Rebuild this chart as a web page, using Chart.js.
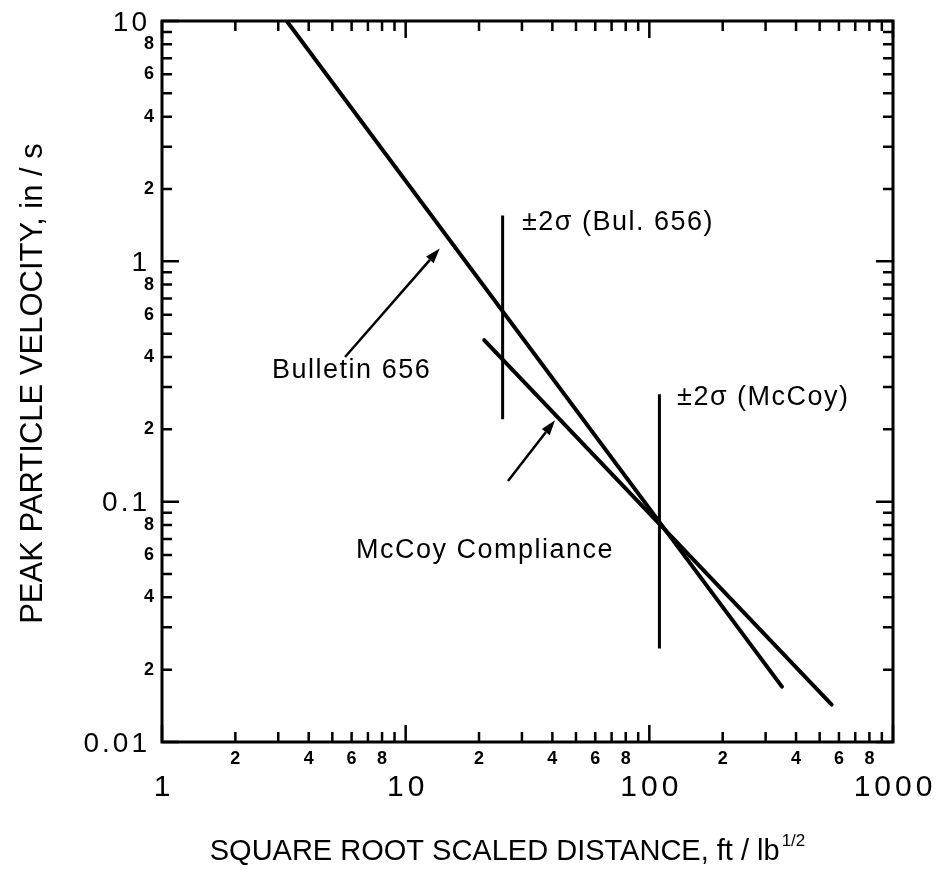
<!DOCTYPE html>
<html>
<head>
<meta charset="utf-8">
<script src="https://cdn.jsdelivr.net/npm/chart.js@4.4.1/dist/chart.umd.min.js"></script>
<style>
  html, body { margin: 0; padding: 0; background: #fff; }
  #wrap { width: 941px; height: 873px; }
</style>
</head>
<body>
<div id="wrap"><canvas id="ppv" width="941" height="873"></canvas></div>
<script>
// attenuation lines: distance in ft/lb^1/2, velocity in in/s
const bulletinDistance = [3.25, 350];
const bulletinVelocity = [10, 0.017];
const mccoyDistance = [21, 560];
const mccoyVelocity = [0.47, 0.0143];

// +/- 2 sigma bars
const bulSigmaDistance = [25, 25];
const bulSigmaVelocity = [1.55, 0.22];
const mccoySigmaDistance = [110, 110];
const mccoySigmaVelocity = [0.28, 0.0245];

// axis ticks
const xDecades = [1, 10, 100, 1000];
const xDecadeLabels = ["1", "10", "100", "1000"];
const yDecades = [0.01, 0.1, 1, 10];
const yDecadeLabels = ["0.01", "0.1", "1", "10"];
const minorSteps = [2, 3, 4, 5, 6, 7, 8, 9];
const labelledSteps = [2, 4, 6, 8];

// callouts, placed in data coordinates
const calloutText = ["Bulletin 656", "McCoy Compliance", "±2σ (Bul. 656)", "±2σ (McCoy)"];
const calloutX = [2.83, 6.25, 30, 130];
const calloutY = [0.351, 0.0628, 1.45, 0.271];
const arrowFromX = [5.64, 26.3];
const arrowFromY = [0.40, 0.122];
const arrowToX = [13.8, 41];
const arrowToY = [1.13, 0.218];

const FONT = "'Liberation Sans', Arial, Helvetica, sans-serif";

function pairs(xs, ys) {
  return xs.map((x, i) => ({ x: x, y: ys[i] }));
}

function tickSet(decades) {
  const out = [];
  decades.forEach((d, i) => {
    out.push({ v: d, major: true });
    if (i < decades.length - 1) {
      minorSteps.forEach((m) => out.push({ v: d * m, major: false }));
    }
  });
  return out;
}

function drawArrow(ctx, x0, y0, x1, y1) {
  const ang = Math.atan2(y1 - y0, x1 - x0);
  const len = 15, half = 5;
  const bx = x1 - len * Math.cos(ang), by = y1 - len * Math.sin(ang);
  ctx.beginPath();
  ctx.moveTo(x0, y0);
  ctx.lineTo(bx, by);
  ctx.stroke();
  ctx.beginPath();
  ctx.moveTo(x1, y1);
  ctx.lineTo(bx + half * Math.sin(ang), by - half * Math.cos(ang));
  ctx.lineTo(bx - half * Math.sin(ang), by + half * Math.cos(ang));
  ctx.closePath();
  ctx.fill();
}

// frame, inward ticks on all four sides, labels, titles, callouts
const logFrame = {
  id: "logFrame",
  afterDatasetsDraw(chart) {
    const ctx = chart.ctx;
    const a = chart.chartArea;
    const xs = chart.scales.x, ys = chart.scales.y;
    ctx.save();
    ctx.strokeStyle = "#000";
    ctx.fillStyle = "#000";
    ctx.lineCap = "butt";

    ctx.lineWidth = 3;
    ctx.strokeRect(a.left, a.top, a.right - a.left, a.bottom - a.top);

    ctx.lineWidth = 2.5;
    tickSet(xDecades).forEach((t) => {
      const px = xs.getPixelForValue(t.v);
      const len = t.major ? 17 : 10;
      ctx.beginPath();
      ctx.moveTo(px, a.bottom); ctx.lineTo(px, a.bottom - len);
      ctx.moveTo(px, a.top); ctx.lineTo(px, a.top + len);
      ctx.stroke();
    });
    tickSet(yDecades).forEach((t) => {
      const py = ys.getPixelForValue(t.v);
      const len = t.major ? 17 : 10;
      ctx.beginPath();
      ctx.moveTo(a.left, py); ctx.lineTo(a.left + len, py);
      ctx.moveTo(a.right, py); ctx.lineTo(a.right - len, py);
      ctx.stroke();
    });

    // x tick labels
    ctx.textAlign = "center";
    ctx.textBaseline = "middle";
    ctx.font = "bold 18px " + FONT;
    xDecades.slice(0, -1).forEach((d) => {
      labelledSteps.forEach((m) => {
        ctx.fillText(String(m), xs.getPixelForValue(d * m), a.bottom + 17);
      });
    });
    ctx.font = "30px " + FONT;
    ctx.letterSpacing = "4px";
    xDecades.forEach((d, i) => {
      ctx.fillText(xDecadeLabels[i], xs.getPixelForValue(d) + 2, a.bottom + 46);
    });

    // y tick labels
    ctx.textAlign = "right";
    ctx.letterSpacing = "0px";
    ctx.font = "bold 18px " + FONT;
    yDecades.slice(0, -1).forEach((d) => {
      labelledSteps.forEach((m) => {
        ctx.fillText(String(m), a.left - 8, ys.getPixelForValue(d * m));
      });
    });
    ctx.font = "28px " + FONT;
    ctx.letterSpacing = "3px";
    yDecades.forEach((d, i) => {
      ctx.fillText(yDecadeLabels[i], a.left - 12, ys.getPixelForValue(d) + 2);
    });
    ctx.letterSpacing = "0px";

    // axis titles
    ctx.textAlign = "left";
    ctx.textBaseline = "alphabetic";
    const xTitle = "SQUARE ROOT SCALED DISTANCE, ft / lb";
    const sup = "1/2";
    ctx.font = "29px " + FONT;
    const wMain = ctx.measureText(xTitle).width;
    ctx.font = "17px " + FONT;
    const wSup = ctx.measureText(sup).width;
    const total = wMain + wSup + 2;
    const cx = (a.left + a.right) / 2 - 20;
    ctx.font = "29px " + FONT;
    ctx.fillText(xTitle, cx - total / 2, a.bottom + 118);
    ctx.font = "17px " + FONT;
    ctx.fillText(sup, cx - total / 2 + wMain + 2, a.bottom + 104);

    ctx.save();
    ctx.translate(42, (a.top + a.bottom) / 2 + 2);
    ctx.rotate(-Math.PI / 2);
    ctx.textAlign = "center";
    ctx.font = "31px " + FONT;
    ctx.fillText("PEAK PARTICLE VELOCITY, in / s", 0, 0);
    ctx.restore();

    // callout labels and arrows
    ctx.textAlign = "left";
    ctx.textBaseline = "middle";
    ctx.font = "27px " + FONT;
    ctx.letterSpacing = "1.5px";
    calloutText.forEach((txt, i) => {
      ctx.fillText(txt, xs.getPixelForValue(calloutX[i]), ys.getPixelForValue(calloutY[i]));
    });
    ctx.letterSpacing = "0px";
    ctx.lineWidth = 2.5;
    arrowFromX.forEach((fx, i) => {
      drawArrow(ctx,
        xs.getPixelForValue(fx), ys.getPixelForValue(arrowFromY[i]),
        xs.getPixelForValue(arrowToX[i]), ys.getPixelForValue(arrowToY[i]));
    });
    ctx.restore();
  }
};

const lineStyle = {
  borderColor: "#000",
  backgroundColor: "#000",
  borderWidth: 4,
  pointRadius: 0,
  fill: false,
  tension: 0,
  borderCapStyle: "round",
};

new Chart(document.getElementById("ppv"), {
  type: "line",
  data: {
    datasets: [
      { label: "Bulletin 656", data: pairs(bulletinDistance, bulletinVelocity), ...lineStyle },
      { label: "McCoy Compliance", data: pairs(mccoyDistance, mccoyVelocity), ...lineStyle },
      { label: "±2σ (Bul. 656)", data: pairs(bulSigmaDistance, bulSigmaVelocity), ...lineStyle, borderWidth: 3, borderCapStyle: "butt" },
      { label: "±2σ (McCoy)", data: pairs(mccoySigmaDistance, mccoySigmaVelocity), ...lineStyle, borderWidth: 3, borderCapStyle: "butt" },
    ],
  },
  options: {
    responsive: false,
    animation: false,
    layout: { padding: { left: 162, right: 48, top: 21, bottom: 131 } },
    plugins: { legend: { display: false }, tooltip: { enabled: false } },
    scales: {
      x: { type: "logarithmic", min: 1, max: 1000, display: false },
      y: { type: "logarithmic", min: 0.01, max: 10, display: false },
    },
  },
  plugins: [logFrame],
});
</script>
</body>
</html>
